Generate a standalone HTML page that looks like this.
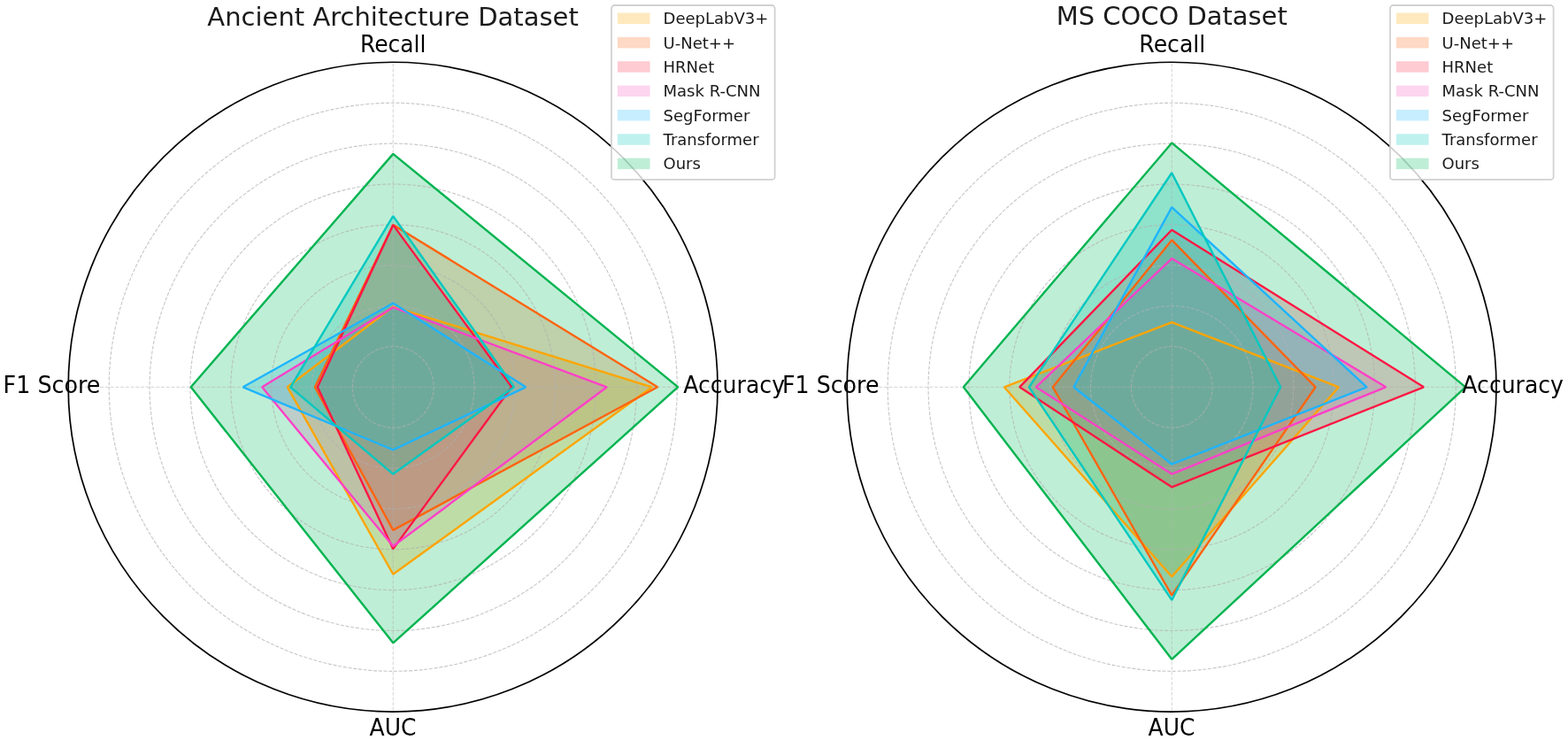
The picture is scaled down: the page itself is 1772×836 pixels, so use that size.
<!DOCTYPE html>
<html lang="en"><head><meta charset="utf-8">
<title>Segmentation model comparison radar charts</title>
<style>
html,body{margin:0;padding:0;background:#fff;}
body{width:1772px;height:836px;overflow:hidden;}
svg{display:block;}
text{font-family:"DejaVu Sans","Liberation Sans",sans-serif;fill:#000;}
.title{font-size:28.6px;fill:#1a1a1a;}
.axl{font-size:26px;}
.leg{font-size:18px;fill:#1a1a1a;}
.grid{fill:none;stroke:#b0b0b0;stroke-opacity:0.7;stroke-width:1.15;stroke-dasharray:4.0 1.74;}
.spoke{stroke-width:1;stroke-opacity:0.55;}
.spine{fill:none;stroke:#000;stroke-width:1.7;}
.area{stroke:none;fill-opacity:0.25;}
.ln{fill:none;stroke-width:2.4;stroke-linejoin:bevel;}
.legbox{fill:#fff;fill-opacity:0.8;stroke:#ccc;stroke-opacity:0.9;stroke-width:1.8;}
</style></head><body>
<svg width="1772" height="836" viewBox="0 0 1772 836" role="img" aria-label="Radar charts comparing segmentation models on the Ancient Architecture and MS COCO datasets">
<rect width="1772" height="836" fill="#fff"/>
<g>
<polygon class="area" fill="#FCA800" points="736.85,437.3 444.25,346.55 324.85,437.3 444.25,648.75"/>
<polygon class="area" fill="#FA6614" points="743.15,437.3 444.25,253.95 355.95,437.3 444.25,598.85"/>
<polygon class="area" fill="#FA2F50" points="578.25,437.3 444.25,254.15 358.85,437.3 444.25,620.15"/>
<polygon class="area" fill="#F857BE" points="685.85,437.3 444.25,347.25 296.15,437.3 444.25,617.05"/>
<polygon class="area" fill="#20BCFC" points="594.2,437.3 444.25,342.45 274.65,437.3 444.25,508.25"/>
<polygon class="area" fill="#00C6BE" points="580.95,437.3 444.25,244.1 328.25,437.3 444.25,535.55"/>
<polygon class="area" fill="#00BC5A" points="766.15,437.3 444.25,173.85 215.75,437.3 444.25,726.35"/>
<circle class="grid" cx="444.25" cy="437.3" r="45.86"/>
<circle class="grid" cx="444.25" cy="437.3" r="91.72"/>
<circle class="grid" cx="444.25" cy="437.3" r="137.58"/>
<circle class="grid" cx="444.25" cy="437.3" r="183.44"/>
<circle class="grid" cx="444.25" cy="437.3" r="229.3"/>
<circle class="grid" cx="444.25" cy="437.3" r="275.16"/>
<circle class="grid" cx="444.25" cy="437.3" r="321.02"/>
<path class="grid spoke" d="M444.25 437.3H811.15 M444.25 437.3H77.35 M444.25 437.3V70.4 M444.25 437.3V804.2"/>
<path class="ln" stroke="#FFA500" d="M736.85 437.3 L444.25 346.55 L324.85 437.3 L444.25 648.75Z"/>
<path class="ln" stroke="#FF6410" d="M743.15 437.3 L444.25 253.95 L355.95 437.3 L444.25 598.85Z"/>
<path class="ln" stroke="#FF1744" d="M578.25 437.3 L444.25 254.15 L358.85 437.3 L444.25 620.15Z"/>
<path class="ln" stroke="#FF40C8" d="M685.85 437.3 L444.25 347.25 L296.15 437.3 L444.25 617.05Z"/>
<path class="ln" stroke="#1EB4FF" d="M594.2 437.3 L444.25 342.45 L274.65 437.3 L444.25 508.25Z"/>
<path class="ln" stroke="#00C8C0" d="M580.95 437.3 L444.25 244.1 L328.25 437.3 L444.25 535.55Z"/>
<path class="ln" stroke="#00B450" d="M766.15 437.3 L444.25 173.85 L215.75 437.3 L444.25 726.35Z"/>
<circle class="spine" cx="444.1" cy="437.15" r="366.9"/>
<text class="title" transform="translate(234.35 29) scale(1.0145 1)">Ancient Architecture Dataset</text>
<text class="axl" transform="translate(407 59) scale(0.9595 1)">Recall</text>
<text class="axl" transform="translate(417.56 831) scale(0.9626 1)">AUC</text>
<text class="axl" transform="translate(3.56 444) scale(0.9770 1)">F1 Score</text>
<text class="axl" transform="translate(772.16 444) scale(0.9685 1)">Accuracy</text>
<rect class="legbox" x="690.95" y="6" width="184.7" height="196.9" rx="3.5" ry="3.5"/>
<rect class="area" fill="#FCA800" x="697.85" y="14.55" width="36.7" height="12.5"/>
<text class="leg" x="749.55" y="27">DeepLabV3+</text>
<rect class="area" fill="#FA6614" x="697.85" y="41.9" width="36.7" height="12.5"/>
<text class="leg" x="749.55" y="55">U-Net++</text>
<rect class="area" fill="#FA2F50" x="697.85" y="69.25" width="36.7" height="12.5"/>
<text class="leg" x="749.55" y="82">HRNet</text>
<rect class="area" fill="#F857BE" x="697.85" y="96.6" width="36.7" height="12.5"/>
<text class="leg" x="749.55" y="109">Mask R-CNN</text>
<rect class="area" fill="#20BCFC" x="697.85" y="123.95" width="36.7" height="12.5"/>
<text class="leg" x="749.55" y="137">SegFormer</text>
<rect class="area" fill="#00C6BE" x="697.85" y="151.3" width="36.7" height="12.5"/>
<text class="leg" x="749.55" y="164">Transformer</text>
<rect class="area" fill="#00BC5A" x="697.85" y="178.65" width="36.7" height="12.5"/>
<text class="leg" x="749.55" y="191">Ours</text>
</g>
<g>
<polygon class="area" fill="#FCA800" points="1512.95,437.3 1324.25,364.05 1134.85,437.3 1324.25,651.55"/>
<polygon class="area" fill="#FA6614" points="1486.65,437.3 1324.25,271.15 1189.85,437.3 1324.25,672.55"/>
<polygon class="area" fill="#FA2F50" points="1608.95,437.3 1324.25,259.75 1152.25,437.3 1324.25,550.35"/>
<polygon class="area" fill="#F857BE" points="1566.15,437.3 1324.25,292.05 1170.75,437.3 1324.25,535.55"/>
<polygon class="area" fill="#20BCFC" points="1544.65,437.3 1324.25,234.05 1213.35,437.3 1324.25,524.45"/>
<polygon class="area" fill="#00C6BE" points="1447.15,437.3 1324.25,195.25 1162.95,437.3 1324.25,677.85"/>
<polygon class="area" fill="#00BC5A" points="1656.15,437.3 1324.25,161.45 1088.85,437.3 1324.25,744.85"/>
<circle class="grid" cx="1324.25" cy="437.3" r="45.86"/>
<circle class="grid" cx="1324.25" cy="437.3" r="91.72"/>
<circle class="grid" cx="1324.25" cy="437.3" r="137.58"/>
<circle class="grid" cx="1324.25" cy="437.3" r="183.44"/>
<circle class="grid" cx="1324.25" cy="437.3" r="229.3"/>
<circle class="grid" cx="1324.25" cy="437.3" r="275.16"/>
<circle class="grid" cx="1324.25" cy="437.3" r="321.02"/>
<path class="grid spoke" d="M1324.25 437.3H1691.15 M1324.25 437.3H957.35 M1324.25 437.3V70.4 M1324.25 437.3V804.2"/>
<path class="ln" stroke="#FFA500" d="M1512.95 437.3 L1324.25 364.05 L1134.85 437.3 L1324.25 651.55Z"/>
<path class="ln" stroke="#FF6410" d="M1486.65 437.3 L1324.25 271.15 L1189.85 437.3 L1324.25 672.55Z"/>
<path class="ln" stroke="#FF1744" d="M1608.95 437.3 L1324.25 259.75 L1152.25 437.3 L1324.25 550.35Z"/>
<path class="ln" stroke="#FF40C8" d="M1566.15 437.3 L1324.25 292.05 L1170.75 437.3 L1324.25 535.55Z"/>
<path class="ln" stroke="#1EB4FF" d="M1544.65 437.3 L1324.25 234.05 L1213.35 437.3 L1324.25 524.45Z"/>
<path class="ln" stroke="#00C8C0" d="M1447.15 437.3 L1324.25 195.25 L1162.95 437.3 L1324.25 677.85Z"/>
<path class="ln" stroke="#00B450" d="M1656.15 437.3 L1324.25 161.45 L1088.85 437.3 L1324.25 744.85Z"/>
<circle class="spine" cx="1324.1" cy="437.15" r="366.9"/>
<text class="title" transform="translate(1193.68 28) scale(1.0127 1)">MS COCO Dataset</text>
<text class="axl" transform="translate(1287.28 59) scale(0.9677 1)">Recall</text>
<text class="axl" transform="translate(1297.56 831) scale(0.9626 1)">AUC</text>
<text class="axl" transform="translate(883.97 444) scale(0.9733 1)">F1 Score</text>
<text class="axl" transform="translate(1652.36 444) scale(0.9651 1)">Accuracy</text>
<rect class="legbox" x="1570.95" y="6" width="184.7" height="196.9" rx="3.5" ry="3.5"/>
<rect class="area" fill="#FCA800" x="1577.85" y="14.55" width="36.7" height="12.5"/>
<text class="leg" x="1629.55" y="27">DeepLabV3+</text>
<rect class="area" fill="#FA6614" x="1577.85" y="41.9" width="36.7" height="12.5"/>
<text class="leg" x="1629.55" y="55">U-Net++</text>
<rect class="area" fill="#FA2F50" x="1577.85" y="69.25" width="36.7" height="12.5"/>
<text class="leg" x="1629.55" y="82">HRNet</text>
<rect class="area" fill="#F857BE" x="1577.85" y="96.6" width="36.7" height="12.5"/>
<text class="leg" x="1629.55" y="109">Mask R-CNN</text>
<rect class="area" fill="#20BCFC" x="1577.85" y="123.95" width="36.7" height="12.5"/>
<text class="leg" x="1629.55" y="137">SegFormer</text>
<rect class="area" fill="#00C6BE" x="1577.85" y="151.3" width="36.7" height="12.5"/>
<text class="leg" x="1629.55" y="164">Transformer</text>
<rect class="area" fill="#00BC5A" x="1577.85" y="178.65" width="36.7" height="12.5"/>
<text class="leg" x="1629.55" y="191">Ours</text>
</g>
</svg>
</body></html>
